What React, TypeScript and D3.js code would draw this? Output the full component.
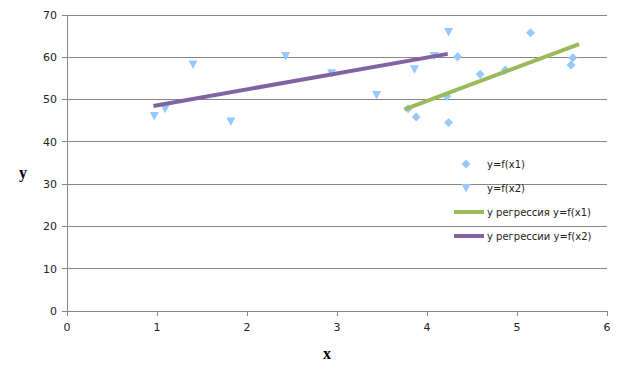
import React from "react";
import * as d3 from "d3";

const x1Values = [3.79, 3.88, 4.22, 4.24, 4.34, 4.59, 4.87, 5.15, 5.62, 5.6];
const y1Values = [47.8, 45.9, 50.8, 44.6, 60.1, 56.0, 57.0, 65.8, 59.9, 58.2];
const x2Values = [0.97, 1.09, 1.4, 1.82, 2.43, 2.94, 3.44, 3.86, 4.08, 4.24];
const y2Values = [46.1, 47.8, 58.3, 44.8, 60.3, 56.2, 51.1, 57.2, 60.3, 66.0];
const reg1X = [3.75, 5.69];
const reg1Y = [47.7, 63.1];
const reg2X = [0.96, 4.23];
const reg2Y = [48.5, 60.8];
const xTicks = [0, 1, 2, 3, 4, 5, 6];
const yTicks = [0, 10, 20, 30, 40, 50, 60, 70];
const legendLabels = ["y=f(x1)", "y=f(x2)", "y регрессия y=f(x1)", "y регрессии y=f(x2)"];

const W = 624;
const H = 384;
const ML = 67, MR = 607, MT = 15, MB = 311;
const POINT = "#97C9FF";
const GREEN = "#9BBB59";
const PURPLE = "#8064A2";
const GRID = "#868686";
const FONT = "'DejaVu Sans', Verdana, sans-serif";

export default function App() {
  const x = d3.scaleLinear().domain([0, 6]).range([ML, MR]);
  const y = d3.scaleLinear().domain([0, 70]).range([MB, MT]);
  const line = d3.line<[number, number]>().x(d => x(d[0])).y(d => y(d[1]));
  const diamond = (cx: number, cy: number, r = 4.5) =>
    `M${cx},${cy - r}L${cx + r},${cy}L${cx},${cy + r}L${cx - r},${cy}Z`;
  const tri = (cx: number, cy: number, r = 4.5) =>
    `M${cx - r},${cy - 4}L${cx + r},${cy - 4}L${cx},${cy + 4.5}Z`;
  const p1 = x1Values.map((v, i) => [v, y1Values[i]] as [number, number]);
  const p2 = x2Values.map((v, i) => [v, y2Values[i]] as [number, number]);
  const r1 = reg1X.map((v, i) => [v, reg1Y[i]] as [number, number]);
  const r2 = reg2X.map((v, i) => [v, reg2Y[i]] as [number, number]);

  const lx = 466;
  const ly = [164, 188, 212, 236];

  return (
    <svg width={W} height={H} style={{ position: "absolute", left: 0, top: 0, background: "#fff" }}>
      <rect x={0} y={0} width={W} height={H} fill="#fff" />
      {yTicks.map(t => (
        <g key={"y" + t}>
          {t > 0 && <line x1={ML} x2={MR} y1={y(t)} y2={y(t)} stroke={GRID} strokeWidth={1} shapeRendering="crispEdges" />}
          <line x1={ML - 5} x2={ML} y1={y(t)} y2={y(t)} stroke={GRID} shapeRendering="crispEdges" />
          <text x={ML - 10} y={y(t)} dy="0.35em" textAnchor="end" fontFamily={FONT} fontSize={11} fill="#222">{t}</text>
        </g>
      ))}
      {xTicks.map(t => (
        <g key={"x" + t}>
          <line x1={x(t)} x2={x(t)} y1={MB} y2={MB + 5} stroke={GRID} shapeRendering="crispEdges" />
          <text x={x(t)} y={MB + 16} dy="0.35em" textAnchor="middle" fontFamily={FONT} fontSize={11} fill="#222">{t}</text>
        </g>
      ))}
      <line x1={ML} x2={MR} y1={MB} y2={MB} stroke={GRID} shapeRendering="crispEdges" />
      <line x1={ML} x2={ML} y1={MT} y2={MB} stroke={GRID} shapeRendering="crispEdges" />

      <text x={23} y={172} dy="0.35em" textAnchor="middle" fontFamily="'Liberation Serif', 'DejaVu Serif', serif" fontWeight="bold" fontSize={16} fill="#000">y</text>
      <text x={327} y={353} dy="0.35em" textAnchor="middle" fontFamily="'Liberation Serif', 'DejaVu Serif', serif" fontWeight="bold" fontSize={16} fill="#000">x</text>

      {p1.map((d, i) => <path key={"d" + i} d={diamond(x(d[0]), y(d[1]))} fill={POINT} />)}
      {p2.map((d, i) => <path key={"t" + i} d={tri(x(d[0]), y(d[1]))} fill={POINT} />)}
      <path d={line(r1) || ""} stroke={GREEN} strokeWidth={4} fill="none" />
      <path d={line(r2) || ""} stroke={PURPLE} strokeWidth={4} fill="none" />

      <path d={diamond(lx, ly[0])} fill={POINT} />
      <path d={tri(lx, ly[1])} fill={POINT} />
      <line x1={454} x2={484} y1={ly[2]} y2={ly[2]} stroke={GREEN} strokeWidth={4} />
      <line x1={454} x2={484} y1={ly[3]} y2={ly[3]} stroke={PURPLE} strokeWidth={4} />
      {legendLabels.map((l, i) => (
        <text key={l} x={487} y={ly[i]} dy="0.35em" fontFamily={FONT} fontSize={10} fill="#222">{l}</text>
      ))}
    </svg>
  );
}
